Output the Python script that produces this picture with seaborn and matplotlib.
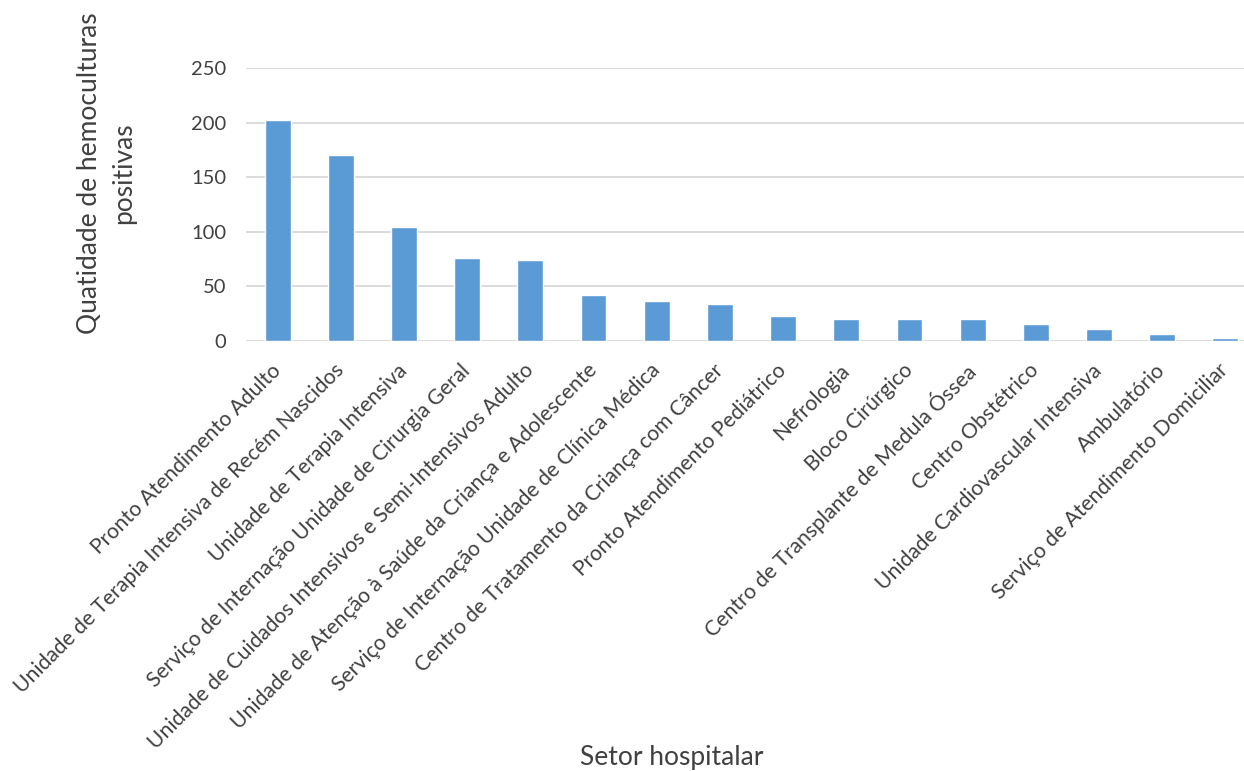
import matplotlib
matplotlib.use("Agg")
import matplotlib.pyplot as plt
import seaborn as sns
import pandas as pd

setores = [
    "Pronto Atendimento Adulto",
    "Unidade de Terapia Intensiva de Recém Nascidos",
    "Unidade de Terapia Intensiva",
    "Serviço de Internação Unidade de Cirurgia Geral",
    "Unidade de Cuidados Intensivos e Semi-Intensivos Adulto",
    "Unidade de Atenção à Saúde da Criança e Adolescente",
    "Serviço de Internação Unidade de Clínica Médica",
    "Centro de Tratamento da Criança com Câncer",
    "Pronto Atendimento Pediátrico",
    "Nefrologia",
    "Bloco Cirúrgico",
    "Centro de Transplante de Medula Óssea",
    "Centro Obstétrico",
    "Unidade Cardiovascular Intensiva",
    "Ambulatório",
    "Serviço de Atendimento Domiciliar",
]
quantidades = [202, 170, 104, 76, 74, 42, 37, 34, 23, 20, 20, 20, 16, 11, 6, 3]
y_ticks = [0, 50, 100, 150, 200, 250]

sns.set_theme(style="white")
plt.rcParams["font.family"] = ["Lato", "DejaVu Sans"]

df = pd.DataFrame({"setor": setores, "qtd": quantidades})

W, H = 1244, 771
fig = plt.figure(figsize=(W / 100, H / 100), dpi=100)
ax = fig.add_axes([246 / W, (H - 341) / H, 1011 / W, 273 / H])

sns.barplot(data=df, x="setor", y="qtd", color="#5B9BD5", saturation=1,
            width=0.41, ax=ax, zorder=3)

ax.set_xlim(-0.5, len(setores) - 0.5)
ax.set_ylim(0, 250)
ax.set_yticks(y_ticks)
ax.set_yticklabels([str(v) for v in y_ticks])
ax.yaxis.grid(True, color="#D9D9D9", linewidth=1.3, zorder=0)
ax.set_axisbelow(True)
for s in ax.spines.values():
    s.set_visible(False)

ax.tick_params(axis="y", length=0, pad=14, labelsize=14.5, labelcolor="#404040")
ax.tick_params(axis="x", length=0, pad=19, labelsize=15.2, labelcolor="#404040")
for lab in ax.get_xticklabels():
    lab.set_rotation(45)
    lab.set_ha("right")
    lab.set_va("center")
    lab.set_rotation_mode("anchor")

ax.set_xlabel("")
ax.set_ylabel("")
fig.text(672 / W, 1 - 757 / H, "Setor hospitalar", ha="center", va="center",
         fontsize=19, color="#404040")
fig.text(107 / W, 1 - 173 / H, "Quatidade de hemoculturas\npositivas",
         ha="center", va="center", rotation=90, fontsize=19,
         color="#404040", linespacing=1.45)

fig.savefig("out.png", dpi=100)
